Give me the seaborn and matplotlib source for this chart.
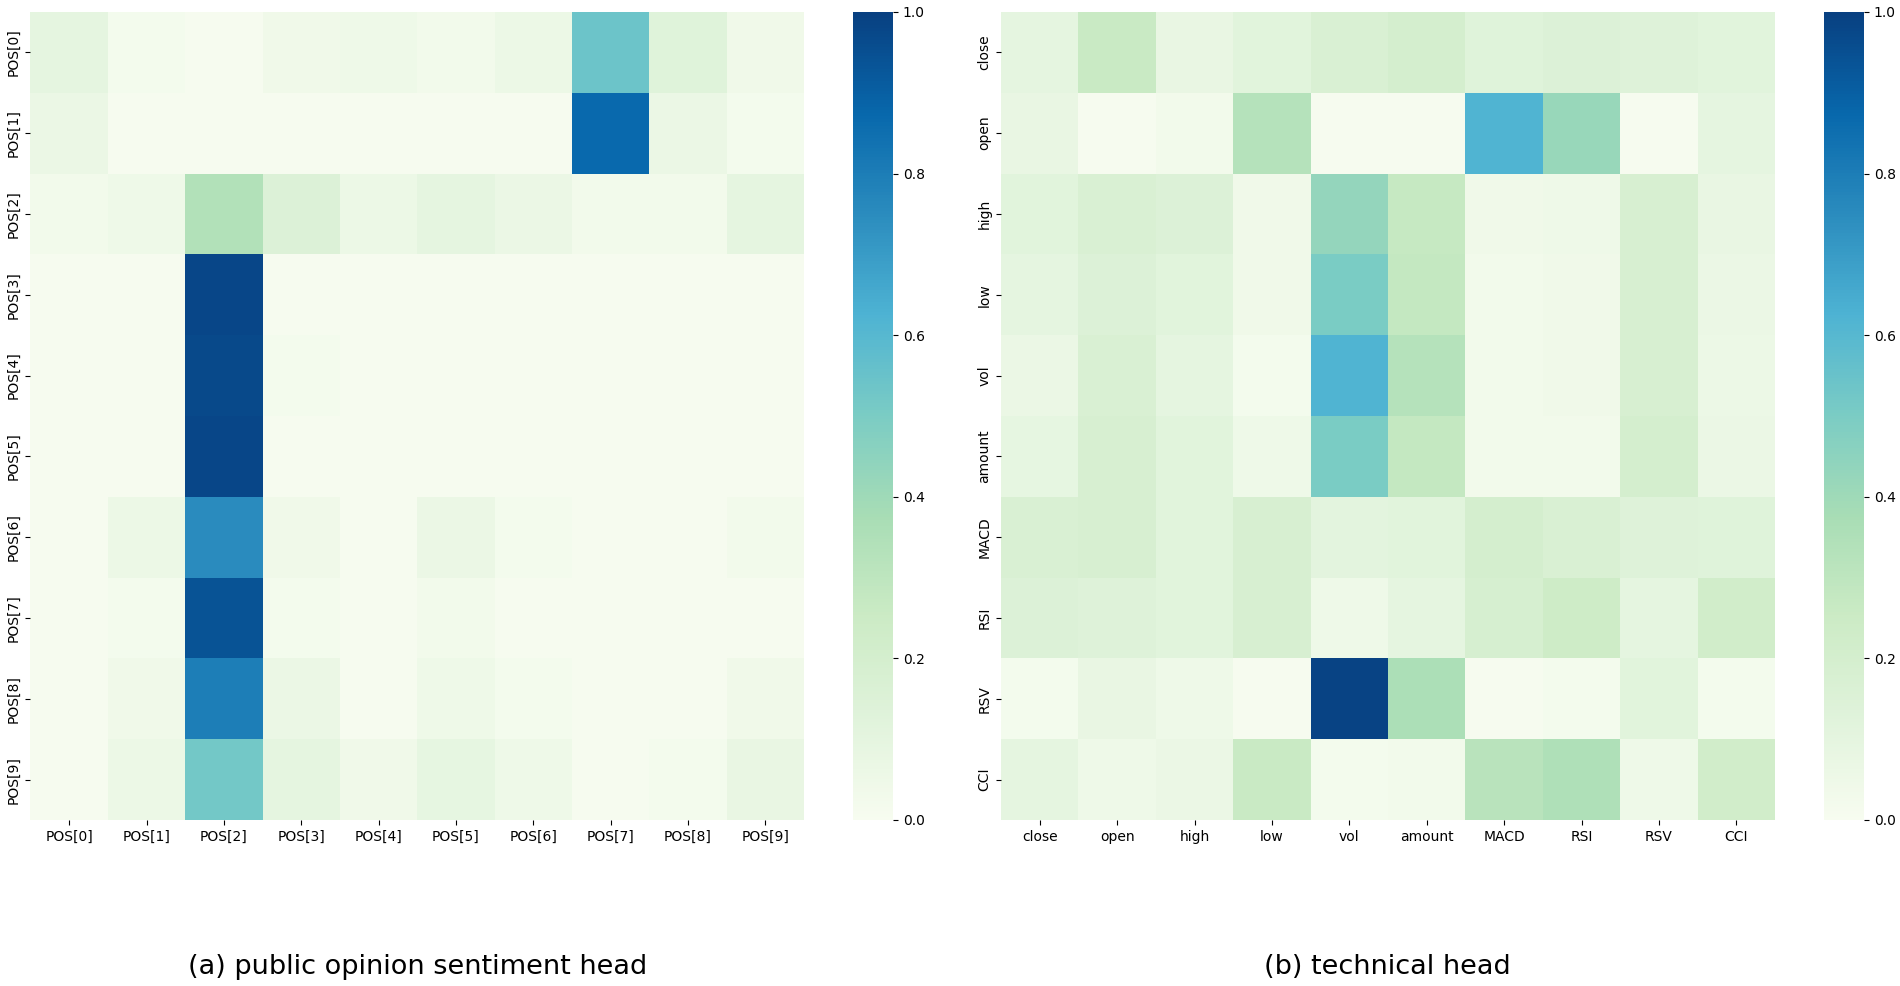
import numpy as np
import pandas as pd
import matplotlib
matplotlib.use('Agg')
import matplotlib.pyplot as plt
import seaborn as sns

# подписи осей
pos_labels = ['POS[0]', 'POS[1]', 'POS[2]', 'POS[3]', 'POS[4]',
              'POS[5]', 'POS[6]', 'POS[7]', 'POS[8]', 'POS[9]']
tech_labels = ['close', 'open', 'high', 'low', 'vol',
               'amount', 'MACD', 'RSI', 'RSV', 'CCI']

# веса внимания: public opinion sentiment head
pos_weights = [
    [0.10, 0.02, 0.01, 0.04, 0.05, 0.03, 0.06, 0.54, 0.13, 0.04],
    [0.07, 0.01, 0.01, 0.01, 0.01, 0.01, 0.01, 0.87, 0.07, 0.02],
    [0.03, 0.05, 0.34, 0.15, 0.06, 0.10, 0.07, 0.03, 0.03, 0.10],
    [0.01, 0.01, 0.98, 0.01, 0.01, 0.01, 0.01, 0.01, 0.01, 0.01],
    [0.01, 0.01, 0.97, 0.02, 0.01, 0.01, 0.01, 0.01, 0.01, 0.01],
    [0.01, 0.01, 0.98, 0.01, 0.01, 0.01, 0.01, 0.01, 0.01, 0.01],
    [0.01, 0.06, 0.75, 0.04, 0.01, 0.07, 0.02, 0.01, 0.01, 0.03],
    [0.01, 0.02, 0.94, 0.02, 0.01, 0.03, 0.01, 0.01, 0.01, 0.01],
    [0.01, 0.04, 0.80, 0.07, 0.01, 0.05, 0.02, 0.01, 0.01, 0.04],
    [0.01, 0.06, 0.52, 0.10, 0.04, 0.09, 0.05, 0.01, 0.02, 0.08],
]

# веса внимания: technical head
tech_weights = [
    [0.10, 0.26, 0.08, 0.12, 0.17, 0.20, 0.13, 0.15, 0.14, 0.12],
    [0.08, 0.01, 0.03, 0.33, 0.01, 0.01, 0.62, 0.42, 0.01, 0.10],
    [0.12, 0.17, 0.15, 0.04, 0.43, 0.27, 0.04, 0.05, 0.18, 0.08],
    [0.10, 0.15, 0.12, 0.04, 0.50, 0.28, 0.03, 0.04, 0.18, 0.07],
    [0.07, 0.17, 0.10, 0.02, 0.62, 0.33, 0.03, 0.04, 0.18, 0.06],
    [0.09, 0.18, 0.12, 0.05, 0.50, 0.28, 0.03, 0.03, 0.20, 0.07],
    [0.17, 0.18, 0.12, 0.18, 0.11, 0.12, 0.20, 0.17, 0.14, 0.13],
    [0.15, 0.14, 0.12, 0.18, 0.05, 0.10, 0.19, 0.24, 0.10, 0.22],
    [0.02, 0.08, 0.05, 0.01, 0.99, 0.36, 0.01, 0.02, 0.12, 0.02],
    [0.10, 0.05, 0.07, 0.26, 0.02, 0.03, 0.32, 0.35, 0.05, 0.22],
]

df_pos = pd.DataFrame(pos_weights, index=pos_labels, columns=pos_labels)
df_tech = pd.DataFrame(tech_weights, index=tech_labels, columns=tech_labels)

fig = plt.figure(figsize=(19, 9.86), dpi=100)

ax1 = fig.add_axes([0.01605, 0.16836, 0.4071, 0.8195])
cax1 = fig.add_axes([0.44895, 0.16836, 0.02105, 0.8195])
ax2 = fig.add_axes([0.52684, 0.16836, 0.4074, 0.8195])
cax2 = fig.add_axes([0.96, 0.16836, 0.02105, 0.8195])

for ax, cax, df in [(ax1, cax1, df_pos), (ax2, cax2, df_tech)]:
    sns.heatmap(df, ax=ax, cbar_ax=cax, cmap='GnBu', vmin=0, vmax=1)
    ax.set_xticklabels(ax.get_xticklabels(), rotation=0, fontsize=10)
    ax.set_yticklabels(ax.get_yticklabels(), rotation=90, va='center', fontsize=10)
    cax.tick_params(labelsize=10)
    cax.set_yticks([0.0, 0.2, 0.4, 0.6, 0.8, 1.0])

# подписи под графиками
fig.text(0.2197, 0.0195, '(a) public opinion sentiment head', ha='center', va='center', fontsize=19.5)
fig.text(0.7303, 0.0195, '(b) technical head', ha='center', va='center', fontsize=19.5)

fig.savefig('out.png', dpi=100)
